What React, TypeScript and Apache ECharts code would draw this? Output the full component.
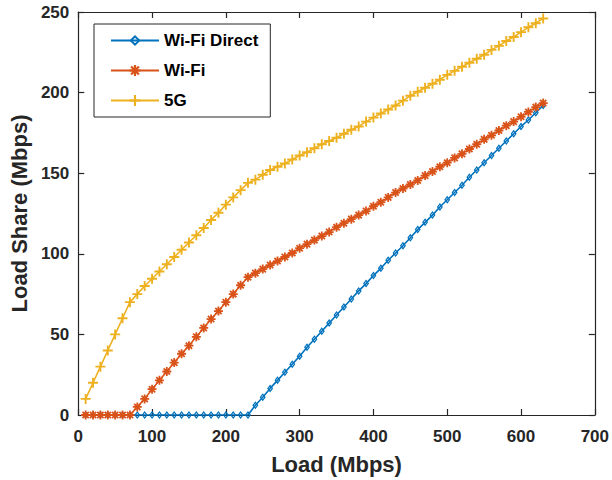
import React, { useEffect, useRef } from "react";
import * as echarts from "echarts";

const loads = [
  10, 20, 30, 40, 50, 60, 70, 80, 90, 100, 110, 120, 130, 140, 150, 160, 170, 180, 190, 200,
  210, 220, 230, 240, 250, 260, 270, 280, 290, 300, 310, 320, 330, 340, 350, 360, 370, 380, 390, 400,
  410, 420, 430, 440, 450, 460, 470, 480, 490, 500, 510, 520, 530, 540, 550, 560, 570, 580, 590, 600,
  610, 620, 630,
];

const wifiDirect = [
  0, 0, 0, 0, 0, 0, 0, 0, 0, 0, 0, 0, 0, 0, 0, 0, 0, 0, 0, 0, 0, 0, 0,
  6, 11, 16.5, 21.5, 26.5, 31.5, 36.5, 42, 47, 52, 57, 62, 67, 72, 77, 81.5, 86.5,
  91, 96, 100.5, 105, 110, 115, 119.5, 124, 129, 133.5, 138, 142.5, 147.5, 152, 156.5, 161, 165.5, 170, 174.5, 179,
  183, 187.5, 192,
];

const wifi = [
  0, 0, 0, 0, 0, 0, 0,
  5, 10, 16, 21.5, 27, 32.5, 38, 43, 48.5, 54, 59.5, 64.5, 70, 75, 80.5, 85.5,
  88, 90.5, 93, 95.5, 98, 100.5, 103.5, 106, 108.5, 111, 113.5, 116.5, 119, 121.5, 124, 126.5, 129.5,
  132, 135, 138, 140.5,
  143, 145.5, 148.5, 151, 154, 156.5, 159.5, 162, 165, 168, 171, 173.5, 176.5, 179.5, 182, 185, 188, 191, 193.5,
];

const fiveG = [
  10, 20, 30, 40, 50, 60, 70,
  75, 80, 84.5, 89, 93.5, 98, 102.5, 107, 111.5, 116, 121, 125.5, 130.5, 135, 139.5, 144,
  146, 149, 152, 154, 156, 158.5, 161, 163, 165.5, 168, 170, 172, 174.5, 177, 179, 182, 184.5,
  187, 189.5, 192, 195,
  198, 200.5, 203, 205.5, 208, 211, 213.5, 216, 218.5, 221, 223.5, 226.5, 229, 232, 234.5, 237.5, 240.5, 243, 246,
];

const seriesNames = ["Wi-Fi Direct", "Wi-Fi", "5G"];
const colors = ["#0072BD", "#D95319", "#EDB120"];
const xTicks = { min: 0, max: 700, interval: 100 };
const yTicks = { min: 0, max: 250, interval: 50 };

const FONT = "'Liberation Sans', Arial, Helvetica, sans-serif";
const TEXT = "#262626";

const diamondPath =
  "path://M0,-10 L10,0 L0,10 L-10,0 Z M0,-5 L-5,0 L0,5 L5,0 Z";
const plusPath =
  "path://M-1.9,-10 L1.9,-10 L1.9,10 L-1.9,10 Z M-10,-1.9 L10,-1.9 L10,1.9 L-10,1.9 Z";
const starPath =
  "path://M-2,-10 L2,-10 L2,10 L-2,10 Z M-10,-2 L10,-2 L10,2 L-10,2 Z " +
  "M-5.6,-8.4 L8.4,5.6 L5.6,8.4 L-8.4,-5.6 Z M8.4,-5.6 L-5.6,8.4 L-8.4,5.6 L5.6,-8.4 Z";

function pairs(ys: number[]) {
  return loads.map((x, i) => [x, ys[i]]);
}

export default function App() {
  const ref = useRef<HTMLDivElement>(null);

  useEffect(() => {
    if (!ref.current) return;
    const chart = echarts.init(ref.current, undefined, { renderer: "svg" });

    const axisLine = { show: true, onZero: false, lineStyle: { color: TEXT, width: 1.2 } };
    const axisTick = { show: true, inside: true, length: 6, lineStyle: { color: TEXT, width: 1.2 } };

    const mk = (idx: number, ys: number[], symbol: string, size: number | number[]) => ({
      name: seriesNames[idx],
      type: "line",
      data: pairs(ys),
      color: colors[idx],
      symbol,
      symbolSize: size,
      showSymbol: true,
      lineStyle: { color: colors[idx], width: 1.6 },
      itemStyle: { color: colors[idx], borderWidth: 0 },
      z: 2 + idx,
    });

    chart.setOption({
      animation: false,
      backgroundColor: "#ffffff",
      textStyle: { fontFamily: FONT },
      grid: { left: 75, right: 15, top: 12, height: 403, containLabel: false },
      legend: {
        orient: "vertical",
        left: 94,
        top: 24,
        padding: [8, 12, 8, 16],
        itemWidth: 48,
        itemHeight: 14,
        itemGap: 13,
        backgroundColor: "#ffffff",
        borderColor: TEXT,
        borderWidth: 1,
        borderRadius: 0,
        textStyle: { fontFamily: FONT, fontSize: 17, fontWeight: "bold", color: "#000000" },
        data: seriesNames,
      },
      xAxis: [
        {
          type: "value",
          ...xTicks,
          position: "bottom",
          name: "Load (Mbps)",
          nameLocation: "middle",
          nameGap: 38,
          nameTextStyle: { fontFamily: FONT, fontSize: 22, fontWeight: "bold", color: TEXT },
          axisLine,
          axisTick,
          axisLabel: { margin: 13, fontFamily: FONT, fontSize: 17, fontWeight: "bold", color: TEXT },
          splitLine: { show: false },
        },
        {
          type: "value",
          ...xTicks,
          position: "top",
          axisLine,
          axisTick,
          axisLabel: { show: false },
          splitLine: { show: false },
        },
      ],
      yAxis: [
        {
          type: "value",
          ...yTicks,
          position: "left",
          name: "Load Share (Mbps)",
          nameLocation: "middle",
          nameGap: 45,
          nameTextStyle: { fontFamily: FONT, fontSize: 22, fontWeight: "bold", color: TEXT },
          axisLine,
          axisTick,
          axisLabel: { margin: 9, fontFamily: FONT, fontSize: 17, fontWeight: "bold", color: TEXT },
          splitLine: { show: false },
        },
        {
          type: "value",
          ...yTicks,
          position: "right",
          axisLine,
          axisTick,
          axisLabel: { show: false },
          splitLine: { show: false },
        },
      ],
      series: [
        mk(0, wifiDirect, diamondPath, [6, 8]),
        mk(1, wifi, starPath, 9),
        mk(2, fiveG, plusPath, 10),
      ],
    });

    return () => chart.dispose();
  }, []);

  return (
    <div
      ref={ref}
      style={{ position: "absolute", left: 0, top: 0, width: 612, height: 480 }}
    />
  );
}
